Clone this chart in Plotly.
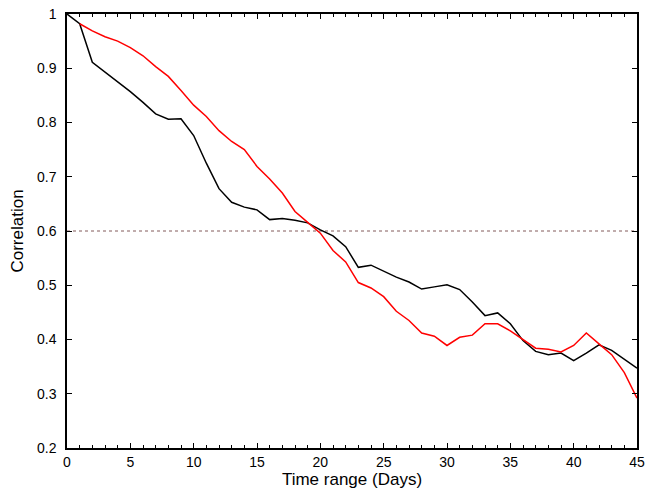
import plotly.graph_objects as go

days_black = list(range(0, 46))
corr_black = [1.0, 0.982, 0.911, 0.893, 0.875, 0.857, 0.837, 0.816, 0.806, 0.807,
              0.776, 0.725, 0.678, 0.653, 0.644, 0.639, 0.621, 0.623, 0.620, 0.615,
              0.602, 0.591, 0.571, 0.533, 0.537, 0.526, 0.515, 0.506, 0.493, 0.497,
              0.501, 0.492, 0.469, 0.444, 0.449, 0.429, 0.398, 0.378, 0.372, 0.375,
              0.361, 0.375, 0.390, 0.380, 0.363, 0.347]

days_red = list(range(1, 46))
corr_red = [0.982, 0.969, 0.958, 0.950, 0.938, 0.923, 0.903, 0.885, 0.859, 0.832,
            0.811, 0.785, 0.765, 0.750, 0.719, 0.696, 0.670, 0.636, 0.616, 0.596,
            0.564, 0.543, 0.505, 0.495, 0.479, 0.452, 0.435, 0.412, 0.406, 0.389,
            0.404, 0.408, 0.429, 0.429, 0.416, 0.400, 0.384, 0.382, 0.377, 0.389,
            0.412, 0.392, 0.372, 0.339, 0.292]

threshold = 0.6
x_range = [0, 45]
y_range = [0.2, 1.0]

fig = go.Figure()
fig.add_trace(go.Scatter(x=x_range, y=[threshold, threshold], mode="lines",
                         line=dict(color="rgb(130,90,90)", width=1, dash="dot"),
                         showlegend=False))
fig.add_trace(go.Scatter(x=days_black, y=corr_black, mode="lines",
                         line=dict(color="black", width=1.5), showlegend=False))
fig.add_trace(go.Scatter(x=days_red, y=corr_red, mode="lines",
                         line=dict(color="red", width=1.5), showlegend=False))

font = dict(family="Liberation Sans, Arial, sans-serif", size=14, color="black")
fig.update_layout(
    width=646, height=495,
    margin=dict(l=67, r=9, t=14, b=47),
    paper_bgcolor="white", plot_bgcolor="white",
    font=font,
    xaxis=dict(range=x_range, tick0=0, dtick=5, ticks="inside", ticklen=5,
               tickwidth=1, tickcolor="black", showline=True, linecolor="black",
               linewidth=1.5, mirror="allticks", showgrid=False, zeroline=False,
               automargin=False,
               title=dict(text="Time range (Days)", standoff=5),
               minor=dict(dtick=1, ticks="inside", ticklen=3, tickcolor="black",
                          showgrid=False)),
    yaxis=dict(range=y_range, tick0=0.2, dtick=0.1, ticks="inside", ticklen=5,
               tickwidth=1, tickcolor="black", showline=True, linecolor="black",
               linewidth=1.5, mirror="allticks", showgrid=False, zeroline=False,
               tickformat="~g", automargin=False, ticklabelstandoff=6,
               title=dict(text="Correlation", standoff=9)),
)
fig.write_html("out.html")
